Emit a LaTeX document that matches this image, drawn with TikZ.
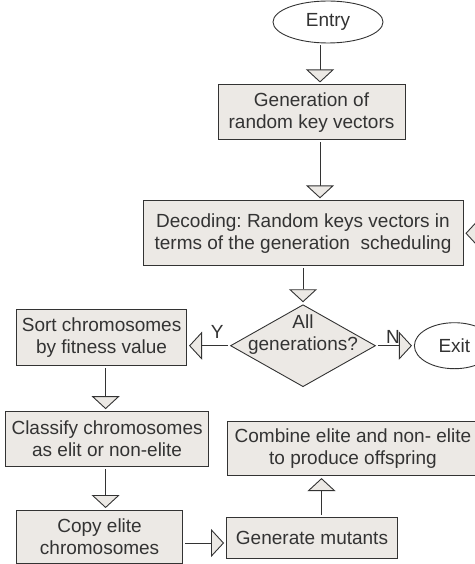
\documentclass[tikz,border=0pt]{standalone}
\usepackage{fontspec}
\setmainfont{Liberation Sans}
\usetikzlibrary{shapes.geometric, arrows.meta, positioning}
\definecolor{boxfill}{RGB}{236,233,229}
\definecolor{linegray}{RGB}{51,51,51}
\frenchspacing

\begin{document}
\begin{tikzpicture}[
    x=1bp, y=-1bp,
    every node/.style={font=\fontsize{19bp}{22bp}\selectfont, text=linegray},
    box/.style={rectangle, draw=linegray, line width=0.9bp, fill=boxfill, align=center, inner sep=0pt},
    term/.style={ellipse, draw=linegray, line width=0.9bp, fill=white, inner sep=0pt},
    decision/.style={diamond, draw=linegray, line width=0.9bp, fill=boxfill, inner sep=0pt, minimum width=145bp, minimum height=82bp},
    arr/.style={-{Triangle[length=13bp, width=28bp, fill=boxfill]}, draw=linegray, line width=0.9bp, shorten >=2bp, shorten <=2bp},
    lbl/.style={inner sep=1bp}
]
\useasboundingbox (0,0) rectangle (475,564);
\clip (0,0) rectangle (475,564);

\node[term, minimum width=110bp, minimum height=42bp] (entry) at (328,22) {Entry};

\node[box, minimum width=187bp, minimum height=55bp, below=41bp of entry, xshift=-16.5bp] (gen) {Generation of\\random key vectors};

\node[box, minimum width=320bp, minimum height=65bp, below=60bp of gen, xshift=-8.5bp] (dec) {Decoding: Random keys vectors in\\terms of the generation~~scheduling};

\node[decision, below=38bp of dec] (gens) {};
\node[align=center, inner sep=0pt] (genstext) at ([yshift=11bp]gens.center) {All\\generations?};

\node[box, minimum width=170bp, minimum height=56bp, left=43bp of gens, yshift=8bp] (sort) {Sort chromosomes\\by fitness value};
\node[term, minimum width=80bp, minimum height=46bp, right=38bp of gens] (exit) {Exit};

\node[box, minimum width=203bp, minimum height=55bp, below=45bp of sort, xshift=5.5bp] (classify) {Classify chromosomes\\as elit or non-elite};

\node[box, minimum width=166bp, minimum height=53bp, below=43bp of classify, xshift=-7.5bp] (copy) {Copy elite\\chromosomes};
\node[box, minimum width=171bp, minimum height=41bp, right=43bp of copy, yshift=-1bp] (mutants) {Generate mutants};

\node[box, minimum width=251bp, minimum height=54bp, above=41bp of mutants, xshift=41bp] (combine) {Combine elite and non- elite\\to produce offspring};

\draw[arr] ([xshift=-8bp]entry.south) -- ([xshift=-8bp]entry.south |- gen.north);
\draw[arr] ([xshift=8.5bp]gen.south) -- ([xshift=8.5bp]gen.south |- dec.north);
\draw[arr] (dec.south) -- (gens.north);
\draw[arr] (gens.west) -- (sort.east |- gens.west) node[lbl, pos=0.3, above=6bp] {Y};
\draw[arr] (gens.east) -- (exit.west) node[lbl, pos=0.45, above=1bp] {N};
\draw[arr] ([xshift=4bp]sort.south) -- ([xshift=4bp]sort.south |- classify.north);
\draw[arr] ([xshift=-1.5bp]classify.south) -- ([xshift=-1.5bp]classify.south |- copy.north);
\draw[arr] ([yshift=-6bp]copy.east) -- ([yshift=-6bp]copy.east -| mutants.west);
\draw[arr] ([xshift=9.5bp]mutants.north) -- ([xshift=9.5bp]mutants.north |- combine.south);
\draw[arr] (combine.east) -- ++(14,0) |- (dec.east);

\end{tikzpicture}
\end{document}
